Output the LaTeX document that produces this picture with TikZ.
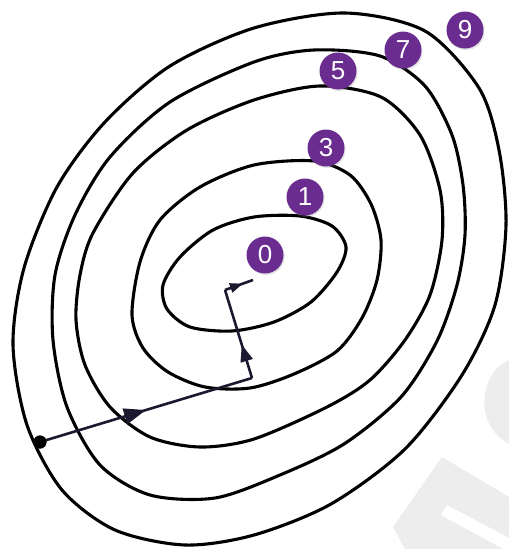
\documentclass[tikz,border=0pt]{standalone}
\usepackage{fontspec}
\setmainfont{Liberation Sans}
\usetikzlibrary{arrows.meta,decorations.markings,shadows}
\definecolor{lblpurple}{HTML}{6A2C8E}
\definecolor{arrowdark}{HTML}{1C1830}
\definecolor{wmgray}{HTML}{EDEDED}
\begin{document}
\begin{tikzpicture}[x=1pt,y=-1pt,
  contour/.style={line width=3.1pt, black, line join=round},
  lbl/.style={circle, fill=lblpurple, text=white, minimum size=37pt, inner sep=0pt,
    font=\fontsize{26}{26}\selectfont,
    drop shadow={opacity=0.22, shadow xshift=1pt, shadow yshift=-1.5pt}},
  pathline/.style={line width=2.6pt, arrowdark},
  midarrow/.style 2 args={postaction={decorate}, decoration={markings,
    mark=at position #1 with {\arrow[arrowdark]{Triangle[length=#2, width=0.72*#2]}}}},
  dotnode/.style={circle, fill=black, minimum size=13pt, inner sep=0pt}
]
\fill[white] (0,0) rectangle (509,549);
\useasboundingbox (0,0) rectangle (509,549);
% watermark
\fill[wmgray] (509,360) .. controls (490,368) and (482,392) .. (485,410)
  .. controls (488,428) and (498,438) .. (509,444) -- cycle;
\fill[wmgray] (442,457) -- (509,497) -- (509,549) -- (405,549) -- (393,527) -- cycle;
\fill[white] (447,505) -- (509,538) -- (509,552) -- (441,515) -- cycle;
% contours
\draw[contour] plot[smooth cycle] coordinates {(163,285) (180,257) (213,230) (254,217) (300,216) (332,226) (346,247) (337,272) (311,302) (274,322) (232,331) (190,327) (167,309)};
\draw[contour] plot[smooth cycle] coordinates {(140,262) (160,220) (200,187) (254,165) (314,161) (350,175) (371,204) (381,240) (377,280) (362,318) (337,351) (294,374) (250,388) (205,387) (168,372) (143,348) (132,315)};
\draw[contour] plot[smooth cycle] coordinates {(80,275) (93,233) (133,173) (187,130) (254,100) (320,86) (381,97) (420,135) (440,190) (442,240) (430,295) (405,340) (370,380) (327,407) (254,439) (200,447) (150,437) (110,407) (85,365) (76,320)};
\draw[contour] plot[smooth cycle] coordinates {(55,275) (75,215) (110,157) (170,102) (254,62) (314,50) (380,56) (425,86) (452,135) (463,185) (465,235) (457,285) (437,341) (401,397) (344,444) (280,475) (215,498) (150,495) (100,465) (67,407) (53,340)};
\draw[contour] plot[smooth cycle] coordinates {(13,345) (24,268) (57,187) (105,122) (170,66) (254,28) (345,13) (425,31) (479,88) (499,150) (506,225) (495,305) (462,375) (405,449) (331,504) (254,535) (185,545) (115,530) (62,490) (27,425)};
% descent path
\coordinate (p1) at (252,378);
\coordinate (p2) at (225,290);
\coordinate (p3) at (253,280);
\node[dotnode] (start) at (40,442) {};
\draw[pathline, midarrow={0.5}{22pt}] (start.center) -- (p1);
\draw[pathline, midarrow={0.38}{17pt}] (p1) -- (p2);
\draw[pathline, midarrow={0.64}{13pt}] (p2) -- (p3);
\node[dotnode] at (start) {};
% labels
\node[lbl] (l0) at (265,255) {0};
\node[lbl] (l1) at (305,197) {1};
\node[lbl] (l3) at (326,148) {3};
\node[lbl] (l5) at (338,71) {5};
\node[lbl] (l7) at (403,50) {7};
\node[lbl] (l9) at (465,30) {9};
\end{tikzpicture}
\end{document}
